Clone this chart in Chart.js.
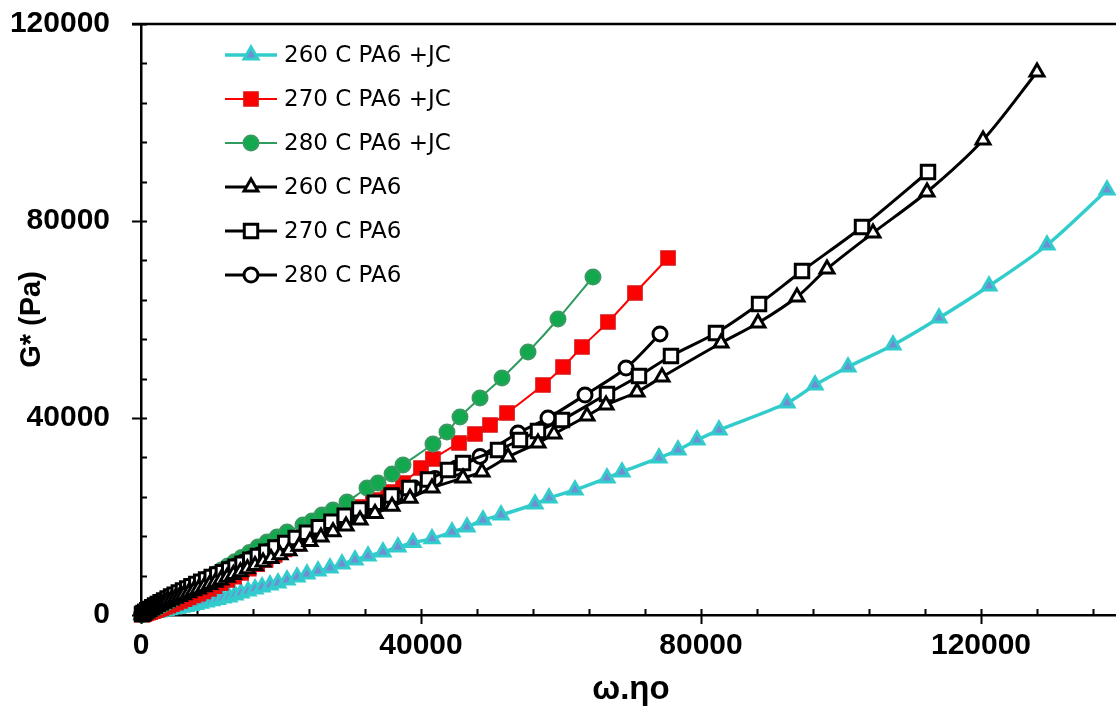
<!DOCTYPE html>
<html>
<head>
<meta charset="utf-8">
<script src="https://cdn.jsdelivr.net/npm/chart.js@4.4.0/dist/chart.umd.min.js"></script>
<style>
  html, body { margin: 0; padding: 0; background: #fff; overflow: hidden; }
  canvas { display: block; }
</style>
</head>
<body>
<canvas id="canvas" width="1121" height="718"></canvas>
<script>
// series names, in legend order
var seriesNames = ['260 C PA6 +JC', '270 C PA6 +JC', '280 C PA6 +JC', '260 C PA6', '270 C PA6', '280 C PA6'];

// axis ticks
var xTickLabels = [0, 40000, 80000, 120000];
var yTickLabels = [0, 40000, 80000, 120000];
var minorStep = 8000;

// 260 C PA6 +JC
var wEta260JC = [100, 250, 450, 700, 1000, 1300, 1700, 2100, 2500, 3000, 3500, 4000, 4600, 5200, 5800, 6400, 7100, 7800, 8500, 9300,
  10100, 10900, 11700, 12570, 13430, 14290, 15290, 16290, 17290, 18430, 19570, 20860, 22290, 23710, 25290, 27000, 28710, 30570, 32430, 34570,
  36710, 38860, 41570, 44430, 46570, 48860, 51430, 56290, 58290, 62000, 66570, 68710, 74000, 76710, 79430, 82570, 92290, 96290, 101000, 107430,
  114000, 121140, 129430, 138000];
var gStar260JC = [25, 60, 110, 170, 240, 320, 420, 520, 630, 760, 900, 1050, 1210, 1380, 1560, 1750, 1950, 2150, 2400, 2650,
  2900, 3150, 3450, 3660, 4060, 4470, 4870, 5280, 5690, 6090, 6500, 7110, 7720, 8330, 8930, 9540, 10360, 11170, 11980, 12790,
  13810, 14700, 15500, 16850, 17870, 19290, 20300, 22540, 23760, 25380, 27820, 29040, 31880, 33500, 35530, 37560, 43050, 46700, 50360, 54820,
  60310, 66800, 75130, 86300];

// 270 C PA6 +JC
var wEta270JC = [100, 250, 450, 700, 1000, 1300, 1700, 2100, 2500, 2900, 3400, 3900, 4400, 5000, 5600, 6200, 6800, 7500, 8200, 8900,
  9700, 10500, 11400, 12300, 13300, 14300, 15400, 16600, 17800, 19100, 20500, 22000, 23600, 25300, 27100, 29000, 31000, 33140, 35290, 37430,
  40000, 41710, 45430, 47710, 49860, 52290, 57430, 60290, 63000, 66710, 70570, 75290];
var gStar270JC = [45, 110, 200, 310, 450, 590, 780, 970, 1170, 1380, 1640, 1900, 2180, 2500, 2850, 3200, 3550, 3950, 4350, 4800,
  5300, 5850, 6450, 7100, 7800, 8550, 9400, 10300, 11200, 12200, 13300, 14500, 15800, 17200, 18700, 20200, 21930, 23350, 24980, 26800,
  29850, 31680, 34930, 36750, 38580, 41020, 46700, 50360, 54420, 59490, 65380, 72490];

// 280 C PA6 +JC
var wEta280JC = [120, 300, 550, 800, 1100, 1400, 1800, 2200, 2600, 3000, 3500, 4000, 4500, 5100, 5700, 6300, 6900, 7600, 8300, 9000,
  9800, 10600, 11500, 12400, 13400, 14400, 15500, 16710, 18000, 19430, 20860, 23140, 24430, 25860, 27430, 29430, 32290, 33860, 35860, 37430,
  41710, 43710, 45570, 48430, 51570, 55290, 59570, 64570];
var gStar280JC = [65, 170, 320, 480, 670, 870, 1150, 1430, 1720, 2020, 2400, 2800, 3200, 3700, 4150, 4650, 5150, 5750, 6350, 6950,
  7650, 8350, 9150, 9950, 10800, 11700, 12700, 13810, 14820, 15840, 16850, 18280, 19090, 20300, 21320, 22950, 25790, 26800, 28630, 30460,
  34720, 37160, 40200, 44060, 48120, 53400, 60100, 68630];

// 260 C PA6
var wEta260 = [200, 400, 700, 1000, 1400, 1800, 2200, 2700, 3200, 3700, 4300, 4900, 5500, 6100, 6800, 7500, 8200, 9000, 9800, 10600,
  11400, 12300, 13200, 14200, 15200, 16290, 17430, 18570, 19860, 21140, 22570, 24140, 25710, 27430, 29290, 31290, 33430, 35860, 38430, 41570,
  46000, 48710, 52430, 56710, 59000, 63710, 66430, 70860, 74430, 82860, 88140, 93710, 98000, 104570, 112290, 120290, 128000];
var gStar260 = [210, 400, 660, 900, 1200, 1480, 1760, 2080, 2400, 2700, 3050, 3400, 3750, 4100, 4500, 4900, 5300, 5750, 6200, 6650,
  7100, 7650, 8200, 8800, 9400, 10050, 10750, 11450, 12250, 13050, 13950, 14900, 15850, 16900, 18050, 19300, 20600, 22100, 23700, 25790,
  27820, 29040, 32080, 34930, 36750, 40410, 42640, 45280, 48330, 55230, 59290, 64570, 70260, 77570, 85890, 96450, 110260];

// 270 C PA6
var wEta270 = [150, 350, 600, 900, 1200, 1600, 2000, 2400, 2800, 3300, 3800, 4300, 4800, 5400, 6000, 6600, 7200, 7900, 8600, 9300,
  10100, 10900, 11700, 12600, 13500, 14500, 15600, 16700, 17900, 19200, 20600, 22100, 23700, 25400, 27200, 29100, 31200, 33400, 35800, 38300,
  41000, 43860, 46000, 51000, 54140, 56710, 60140, 66570, 71140, 75710, 82140, 88290, 94430, 103000, 112430];
var gStar270 = [190, 420, 680, 960, 1240, 1590, 1930, 2260, 2580, 2970, 3360, 3740, 4110, 4550, 4990, 5410, 5830, 6300, 6760, 7220,
  7720, 8220, 8710, 9250, 9800, 10400, 11230, 12000, 12830, 13700, 14650, 15650, 16700, 17800, 18950, 20150, 21450, 22800, 24250, 25800,
  27500, 29440, 30860, 33500, 35530, 37360, 39600, 44870, 48530, 52590, 57260, 63150, 69850, 78780, 89950];

// 280 C PA6
var wEta280 = [100, 250, 450, 700, 1000, 1300, 1700, 2100, 2500, 3000, 3500, 4000, 4500, 5100, 5700, 6300, 7000, 7700, 8400, 9200,
  10000, 10800, 11700, 12600, 13600, 14600, 15700, 16900, 18100, 19400, 20800, 22300, 23900, 25600, 27400, 29400, 31500, 33800, 36300, 39000,
  42000, 45000, 48430, 53860, 58140, 63430, 69290, 74140];
var gStar280 = [130, 300, 520, 780, 1050, 1350, 1650, 2000, 2350, 2750, 3150, 3550, 3950, 4400, 4800, 5250, 5700, 6200, 6700, 7200,
  7700, 8200, 8800, 9400, 10000, 10700, 11400, 12200, 12900, 13700, 14500, 15400, 16400, 17500, 18600, 19800, 21100, 22500, 24100, 25800,
  27700, 29800, 32200, 36960, 40000, 44670, 50150, 57060];

function pts(xs, ys) {
  return xs.map(function(x, i) { return {x: x, y: ys[i]}; });
}

function series(i, xs, ys, st) {
  return {
    label: seriesNames[i],
    data: pts(xs, ys),
    showLine: true,
    tension: 0.3,
    clip: false,
    order: st.order,
    borderColor: st.line,
    borderWidth: st.lineWidth,
    pointStyle: st.shape,
    pointRadius: st.r,
    pointBackgroundColor: st.fill,
    pointBorderColor: st.edge,
    pointBorderWidth: st.edgeWidth
  };
}

var datasets = [
  series(0, wEta260JC, gStar260JC, {order: 3, line: '#33cccc', lineWidth: 3.5, shape: 'triangle', r: 8, fill: '#6f8fd2', edge: '#33cccc', edgeWidth: 3}),
  series(1, wEta270JC, gStar270JC, {order: 2, line: '#ff0000', lineWidth: 2, shape: 'rect', r: 10, fill: '#ff0000', edge: '#e01010', edgeWidth: 1.5}),
  series(2, wEta280JC, gStar280JC, {order: 1, line: '#2e9b5f', lineWidth: 2, shape: 'circle', r: 7.5, fill: '#12a84e', edge: '#3a9a62', edgeWidth: 2}),
  series(3, wEta260, gStar260, {order: 0, line: '#000', lineWidth: 3, shape: 'triangle', r: 8, fill: '#fff', edge: '#000', edgeWidth: 3}),
  series(4, wEta270, gStar270, {order: 0, line: '#000', lineWidth: 3, shape: 'rect', r: 9.5, fill: '#fff', edge: '#000', edgeWidth: 3}),
  series(5, wEta280, gStar280, {order: 0, line: '#000', lineWidth: 3, shape: 'circle', r: 7, fill: '#fff', edge: '#000', edgeWidth: 3})
];

// tick marks: minor ones inside, major ones crossing the axis; frame line on top
var axisTicks = {
  id: 'axisTicks',
  beforeDatasetsDraw: function(chart) {
    var ctx = chart.ctx, a = chart.chartArea, xs = chart.scales.x, ys = chart.scales.y;
    ctx.save();
    ctx.strokeStyle = '#000';
    ctx.lineWidth = 2;
    ctx.beginPath();
    var v, p;
    for (v = 0; v < xs.max; v += minorStep) {
      p = Math.round(xs.getPixelForValue(v)) + 0.5;
      ctx.moveTo(p, a.bottom - 6);
      ctx.lineTo(p, a.bottom + (xTickLabels.indexOf(v) >= 0 ? 9 : 0));
    }
    for (v = 0; v <= ys.max; v += minorStep) {
      p = Math.round(ys.getPixelForValue(v)) + 0.5;
      ctx.moveTo(a.left + 6, p);
      ctx.lineTo(a.left - (yTickLabels.indexOf(v) >= 0 ? 9 : 0), p);
    }
    ctx.stroke();
    ctx.lineWidth = 2.5;
    ctx.beginPath();
    ctx.moveTo(a.left - 9, a.top);
    ctx.lineTo(a.right, a.top);
    ctx.stroke();
    ctx.restore();
  }
};

// legend with a line through each marker
var lineLegend = {
  id: 'lineLegend',
  afterDatasetsDraw: function(chart) {
    var ctx = chart.ctx;
    chart.data.datasets.forEach(function(ds, i) {
      var y = 55 + i * 44;
      ctx.save();
      ctx.strokeStyle = ds.borderColor;
      ctx.lineWidth = ds.borderWidth;
      ctx.beginPath();
      ctx.moveTo(225, y);
      ctx.lineTo(277, y);
      ctx.stroke();
      ctx.fillStyle = ds.pointBackgroundColor;
      ctx.strokeStyle = ds.pointBorderColor;
      ctx.lineWidth = ds.pointBorderWidth;
      Chart.helpers.drawPoint(ctx, {pointStyle: ds.pointStyle, radius: ds.pointRadius, borderWidth: ds.pointBorderWidth, rotation: 0}, 251, y);
      ctx.fillStyle = '#000';
      ctx.font = '23px "DejaVu Sans"';
      ctx.textBaseline = 'middle';
      ctx.fillText(ds.label, 284, y + 1);
      ctx.restore();
    });
  }
};

var tickFont = {family: '"Liberation Sans", Arial, sans-serif', size: 30, weight: 'bold'};

function fixedTicks(list) {
  return function(s) { s.ticks = list.map(function(v) { return {value: v}; }); };
}

function plainLabel(v) {
  return String(v);
}

var config = {
  type: 'scatter',
  data: {datasets: datasets},
  options: {
    responsive: false,
    animation: false,
    events: [],
    layout: {autoPadding: false, padding: {top: 24, right: 0, bottom: 0, left: 0}},
    plugins: {legend: {display: false}, tooltip: {enabled: false}},
    scales: {
      x: {
        type: 'linear', min: 0, max: 140000,
        grid: {display: false, drawTicks: false},
        border: {display: true, color: '#000', width: 2.5},
        afterBuildTicks: fixedTicks(xTickLabels),
        ticks: {autoSkip: false, maxRotation: 0, padding: 13, color: '#000', font: tickFont, callback: plainLabel},
        title: {display: true, text: 'ω.ηο', color: '#000', font: {family: '"Liberation Sans", Arial, sans-serif', size: 33, weight: 'bold'}, padding: {top: 0, bottom: 8}},
        afterFit: function(s) { s.height = 103; s.paddingLeft = 0; s.paddingRight = 0; }
      },
      y: {
        type: 'linear', min: 0, max: 120000,
        grid: {display: false, drawTicks: false},
        border: {display: true, color: '#000', width: 2.5},
        afterBuildTicks: fixedTicks(yTickLabels),
        ticks: {autoSkip: false, padding: 31, color: '#000', font: tickFont, callback: plainLabel},
        title: {display: true, text: 'G* (Pa)', color: '#000', font: {family: '"Liberation Sans", Arial, sans-serif', size: 29, weight: 'bold'}, padding: {top: 15, bottom: 0}},
        afterFit: function(s) { s.width = 141; s.paddingTop = 0; s.paddingBottom = 0; }
      }
    }
  },
  plugins: [axisTicks, lineLegend]
};

window.onload = function() {
  window.myChart = new Chart(document.getElementById('canvas'), config);
};
</script>
</body>
</html>
